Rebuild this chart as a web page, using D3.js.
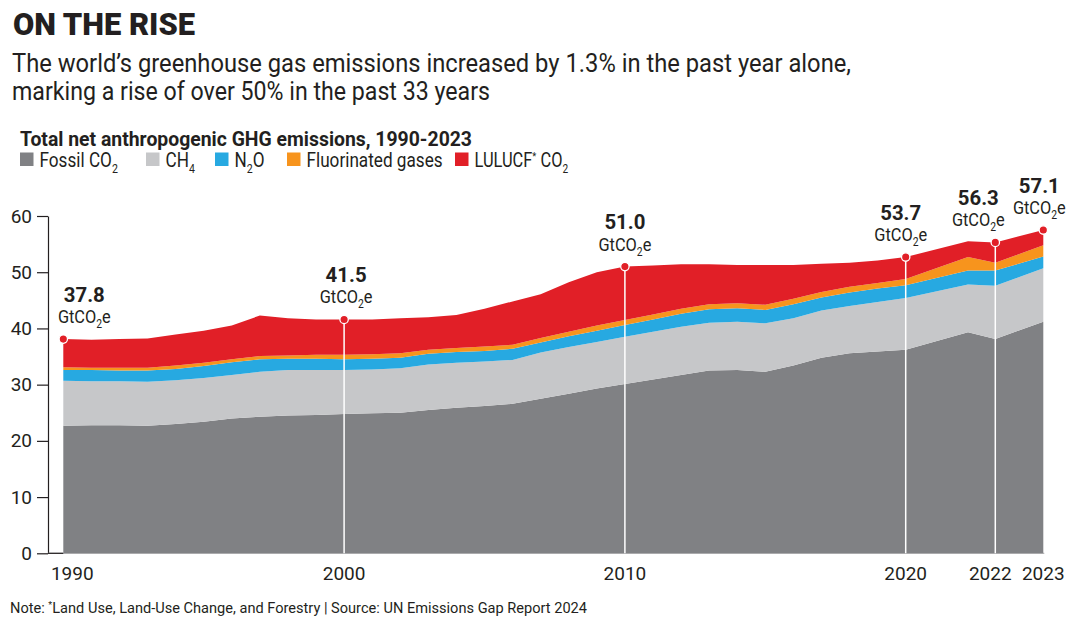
<!DOCTYPE html>
<html><head><meta charset="utf-8">
<script src="https://cdn.jsdelivr.net/npm/d3@7"></script>
<style>
body{margin:0;background:#fff}
svg{display:block}
text{font-family:Roboto,"Noto Sans",sans-serif;fill:#231f20}
</style>
</head><body>
<svg id="chart" width="1077" height="624"></svg>
<script>
// ---------- DATA (GtCO2e), 1990-2023 ----------
const years = d3.range(1990, 2024);
const fossilCO2 = [22.7,22.8,22.8,22.7,23.0,23.4,24.0,24.3,24.5,24.6,
                   24.8,24.9,25.0,25.5,25.9,26.2,26.6,27.5,28.4,29.3,
                   30.1,30.9,31.7,32.5,32.6,32.3,33.4,34.8,35.6,35.9,
                   36.2,39.3,38.1,41.2];
const ch4 = [8.0,7.8,7.8,7.8,7.8,7.8,7.7,8.0,8.1,8.0,
             7.8,7.8,7.9,8.1,8.0,7.9,7.8,8.2,8.3,8.3,
             8.4,8.5,8.6,8.5,8.6,8.6,8.4,8.4,8.4,8.8,
             9.2,8.5,9.5,9.5];
const n2o = [1.9,2.0,1.9,2.0,2.0,2.1,2.3,2.2,2.0,2.0,
             1.9,1.9,1.9,1.9,1.9,1.9,2.0,1.8,1.9,2.0,
             2.1,2.2,2.3,2.4,2.4,2.4,2.5,2.3,2.4,2.4,
             2.3,2.5,2.7,2.1];
const fGases = [0.5,0.4,0.5,0.5,0.6,0.6,0.5,0.6,0.6,0.7,
                0.8,0.8,0.8,0.7,0.7,0.8,0.7,0.8,0.8,0.9,
                0.9,0.9,0.9,0.9,0.9,0.9,1.0,1.0,1.0,1.0,
                1.1,2.4,1.4,2.0];
const lulucf = [5.0,5.0,5.1,5.2,5.5,5.7,6.0,7.2,6.6,6.3,
                6.3,6.2,6.2,5.8,5.9,6.7,7.7,7.8,8.8,9.5,
                9.5,8.7,7.9,7.1,6.8,7.1,6.0,5.0,4.3,4.0,
                3.9,2.8,3.6,2.7];
const seriesKeys = ["fossil","ch4","n2o","fgas","lulucf"];
const seriesColors = ["#808184","#c6c7c9","#27a9e1","#f7941d","#e11f27"];
const yTicks = [0,10,20,30,40,50,60];
const xTickYears = [1990,2000,2010,2020,2022,2023];
const annotYears = [1990,2000,2010,2020,2022,2023];
const annotLabels = ["37.8","41.5","51.0","53.7","56.3","57.1"];

// ---------- SETUP ----------
const svg = d3.select("#chart");
const ink = "#231f20";

// x scale: the last years are drawn wider apart, as in the original layout
const x = d3.scaleLinear()
  .domain([1990, 2020, 2021, 2022, 2023])
  .range([63.3, 905.7, 968, 995.3, 1043.3]);
const y = d3.scaleLinear().domain([0, 60]).range([553.3, 216]);

const rows = years.map((yr, i) => ({
  year: yr, fossil: fossilCO2[i], ch4: ch4[i], n2o: n2o[i], fgas: fGases[i], lulucf: lulucf[i]
}));
const stacked = d3.stack().keys(seriesKeys)(rows);

// helper: one text element made of tspans, squeezed to imitate a condensed face
function richText(parent, pieces, x0, y0, opts = {}) {
  const t = parent.append("text").attr("x", x0).attr("y", y0);
  if (opts.anchor) t.attr("text-anchor", opts.anchor);
  let cur = 0;
  pieces.forEach(p => {
    const ts = t.append("tspan")
      .style("font-size", p.size + "px")
      .style("font-weight", p.weight || 400)
      .text(p.t);
    const target = p.dy || 0;
    if (target - cur) ts.attr("dy", target - cur);
    if (p.dx) ts.attr("dx", p.dx);
    cur = target;
  });
  const squeeze = opts.squeeze || 1;
  if (squeeze !== 1) {
    const w = t.node().getComputedTextLength();
    t.attr("textLength", w * squeeze).attr("lengthAdjust", "spacingAndGlyphs");
  }
  return t;
}
function fitText(str, x0, y0, size, weight, width) {
  const t = svg.append("text").attr("x", x0).attr("y", y0)
    .style("font-size", size + "px").style("font-weight", weight).text(str);
  if (width) t.attr("textLength", width).attr("lengthAdjust", "spacingAndGlyphs");
  return t;
}

// ---------- HEADINGS ----------
fitText("ON THE RISE", 13, 35, 30.5, 900, 182);
fitText("The world\u2019s greenhouse gas emissions increased by 1.3% in the past year alone,", 12, 71.5, 25, 400, 839);
fitText("marking a rise of over 50% in the past 33 years", 12, 100, 25, 400, 478);
fitText("Total net anthropogenic GHG emissions, 1990-2023", 20, 146, 19.5, 700, 452);

// ---------- LEGEND ----------
const legendPieces = [
  [{t:"Fossil CO", size:19.5}, {t:"2", size:12, dy:6}],
  [{t:"CH", size:19.5}, {t:"4", size:12, dy:6}],
  [{t:"N", size:19.5}, {t:"2", size:12, dy:6}, {t:"O", size:19.5}],
  [{t:"Fluorinated gases", size:19.5}],
  [{t:"LULUCF", size:19.5}, {t:"*", size:11, dy:-7}, {t:"CO", size:19.5, dx:5}, {t:"2", size:12, dy:6}]
];
const legendX = [20, 146, 215, 287, 455];
seriesKeys.forEach((k, i) => {
  svg.append("rect").attr("x", legendX[i]).attr("y", 152.5)
    .attr("width", 13.5).attr("height", 13.5).attr("fill", seriesColors[i]);
  richText(svg, legendPieces[i], legendX[i] + 19.5, 166.5, {squeeze: 0.88});
});

// ---------- AXES ----------
const yAxis = svg.append("g").attr("transform", "translate(48,0)")
  .call(d3.axisLeft(y).tickValues(yTicks).tickSize(11).tickSizeOuter(0).tickPadding(5));
yAxis.select(".domain").attr("stroke", ink).attr("stroke-width", 1.2);
yAxis.selectAll(".tick line").attr("stroke", ink).attr("stroke-width", 1.2);
yAxis.selectAll(".tick text").style("font-size", "19px").style("font-family", "Roboto").attr("fill", ink);

// baseline
svg.append("line").attr("x1", 48).attr("x2", x(2023) + 1)
  .attr("y1", y(0)).attr("y2", y(0)).attr("stroke", "#b8b8ba").attr("stroke-width", 1.2);
svg.append("line").attr("x1", 48).attr("x2", x(1990))
  .attr("y1", y(0)).attr("y2", y(0)).attr("stroke", ink).attr("stroke-width", 1.2);

// ---------- AREAS ----------
const area = d3.area().x(d => x(d.data.year)).y0(d => y(d[0])).y1(d => y(d[1]))
  .curve(d3.curveLinear);
svg.append("g").selectAll("path").data(stacked).join("path")
  .attr("d", area).attr("fill", (d, i) => seriesColors[i]);

// x labels
const xLabelShift = {1990: 9, 2022: -5};
xTickYears.forEach(yr => {
  svg.append("text").attr("x", x(yr) + (xLabelShift[yr] || 0)).attr("y", 580)
    .attr("text-anchor", "middle").style("font-size", "19px").text(yr);
});

// ---------- ANNOTATIONS ----------
const totalOf = yr => { const i = years.indexOf(yr); return stacked[stacked.length - 1][i][1]; };
const annotDx = [21, 2, 0, -5, -17, -4];
annotYears.forEach((yr, i) => {
  const cx = x(yr), cy = y(totalOf(yr));
  if (i > 0 && i < annotYears.length - 1) {
    svg.append("line").attr("x1", cx).attr("x2", cx).attr("y1", cy).attr("y2", y(0))
      .attr("stroke", "#fff").attr("stroke-width", 1.5);
  }
  svg.append("circle").attr("cx", cx).attr("cy", cy).attr("r", 4.2)
    .attr("fill", "#e11f27").attr("stroke", "#fff").attr("stroke-width", 1.3);
  svg.append("text").attr("x", cx + annotDx[i]).attr("y", cy - 37.5)
    .attr("text-anchor", "middle").style("font-size", "20px").style("font-weight", 700)
    .attr("textLength", 41).attr("lengthAdjust", "spacingAndGlyphs").text(annotLabels[i]);
  richText(svg, [{t:"GtCO", size:19}, {t:"2", size:12, dy:5}, {t:"e", size:19}],
    cx + annotDx[i], cy - 16, {squeeze: 0.86, anchor: "middle"});
});

// ---------- NOTE ----------
const note = svg.append("text").attr("x", 10).attr("y", 613).style("font-size", "14.5px")
  .attr("textLength", 577).attr("lengthAdjust", "spacingAndGlyphs");
note.append("tspan").text("Note: ");
note.append("tspan").attr("dy", -5).style("font-size", "9px").text("*");
note.append("tspan").attr("dy", 5).text("Land Use, Land-Use Change, and Forestry | Source: UN Emissions Gap Report 2024");
</script>
</body></html>
